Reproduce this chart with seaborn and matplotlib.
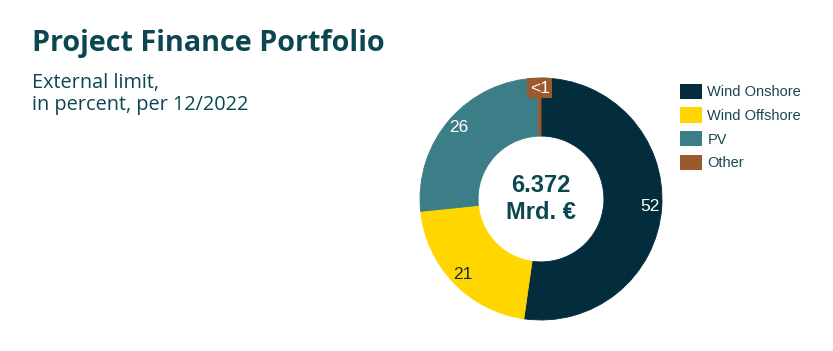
import numpy as np
import seaborn as sns
import matplotlib.pyplot as plt
from matplotlib.patches import Patch

sns.set_theme(style='white')
plt.rcParams['font.family'] = ['Liberation Sans', 'DejaVu Sans']

# data
categories = ['Wind Onshore', 'Wind Offshore', 'PV', 'Other']
shares = [52, 21, 26, 0.5]
share_labels = ['52', '21', '26', '<1']
total_label = '6.372\nMrd. €'

colors = ['#032d3d', '#ffd600', '#3b7e88', '#9b5a2d']
label_colors = ['white', '#0d2f3a', 'white', 'white']
teal = '#0c4650'

fig = plt.figure(figsize=(8.33, 3.51), dpi=100)
fig.patch.set_facecolor('white')

# donut axis: center at (541, 199) px, radius ~121 px
W, H = 833, 351
r_px = 121
cx, cy = 541, 199
ax = fig.add_axes([(cx - r_px) / W, 1 - (cy + r_px) / H, 2 * r_px / W, 2 * r_px / H])

wedges, _ = ax.pie(
    shares,
    colors=colors,
    startangle=90,
    counterclock=False,
    radius=1,
    wedgeprops=dict(width=0.48, linewidth=0.6),
)
for w, c in zip(wedges, colors):
    w.set_edgecolor(c)
ax.set_xlim(-1, 1)
ax.set_ylim(-1, 1)
ax.set_aspect('equal')
ax.axis('off')

# slice labels
start = 90.0
tot = sum(shares)
for i, (val, lab) in enumerate(zip(shares, share_labels)):
    span = 360.0 * val / tot
    mid = np.deg2rad(start - span / 2)
    start -= span
    if lab == '<1':
        ax.text(-0.01, 0.915, lab, ha='center', va='center', color='white', fontsize=12.5,
                bbox=dict(boxstyle='square,pad=0.15', facecolor=colors[i], edgecolor='none'))
    else:
        rr = 0.90
        ax.text(rr * np.cos(mid), rr * np.sin(mid), lab, ha='center', va='center',
                color=label_colors[i], fontsize=12.5)

ax.text(0, 0, total_label, ha='center', va='center', color=teal, fontsize=17,
        fontweight='bold', linespacing=1.25)

# titles
fig.text(32 / W, 1 - 44 / H, 'Project Finance Portfolio', ha='left', va='center',
         fontsize=20.7, fontweight='bold', color=teal, family=['Open Sans', 'DejaVu Sans'])
fig.text(32 / W, 1 - 94 / H, 'External limit,\nin percent, per 12/2022', ha='left', va='center',
         fontsize=14.3, color=teal, family=['Open Sans', 'DejaVu Sans'], linespacing=1.15)

# legend
handles = [Patch(facecolor=c, edgecolor='none') for c in colors]
fig.legend(handles, categories, loc='upper left', bbox_to_anchor=(673 / W, 1 - 76.5 / H),
           frameon=False, fontsize=10.5, labelcolor='#1c4652', borderpad=0,
           handlelength=1.5, handleheight=1.25, handletextpad=0.35, labelspacing=0.55)

fig.savefig('out.png', dpi=100, facecolor='white')
